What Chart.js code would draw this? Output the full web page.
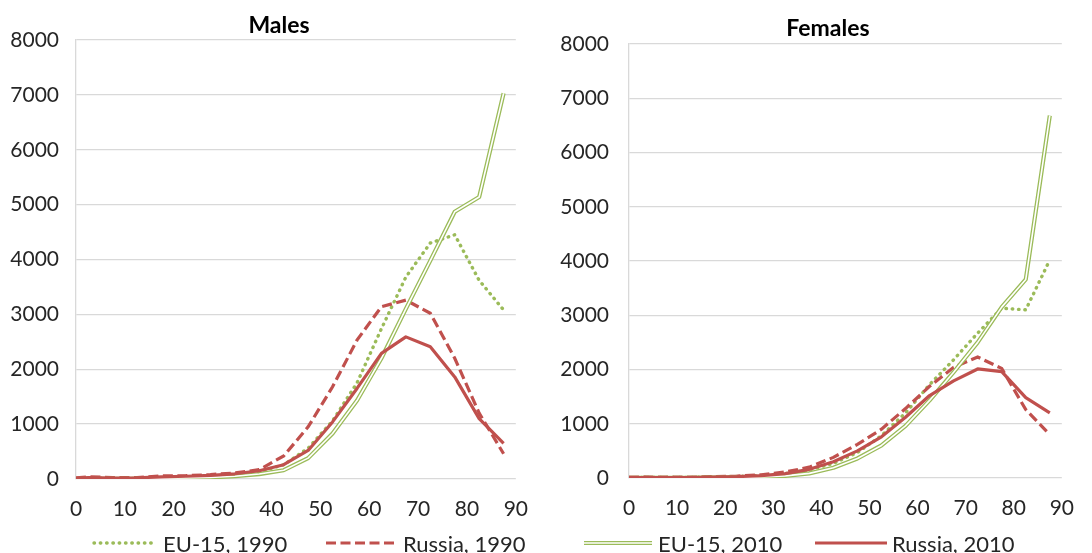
<!DOCTYPE html>
<html>
<head>
<meta charset="utf-8">
<script src="https://cdn.jsdelivr.net/npm/chart.js@4/dist/chart.umd.min.js"></script>
<style>
  html, body { margin: 0; padding: 0; background: #fff; }
  #wrap { position: relative; width: 1092px; height: 553px; overflow: hidden; font-family: Lato, "Open Sans", sans-serif; color: #262626; }
  canvas { position: absolute; top: 0; }
  .title { position: absolute; font-weight: bold; font-size: 23px; line-height: 23px; color: #000; transform: translateX(-50%); white-space: nowrap; }
  .leg { position: absolute; top: 531px; height: 24px; display: flex; align-items: center; font-size: 22px; white-space: nowrap; color: #262626; }
  .leg svg { display: block; margin-right: 5px; }
</style>
</head>
<body>
<div id="wrap">
  <canvas id="males" width="546" height="553" style="left:0"></canvas>
  <canvas id="females" width="546" height="553" style="left:546px"></canvas>
  <div class="title" style="left:279px; top:13px">Males</div>
  <div class="title" style="left:828px; top:16px">Females</div>
  <div class="leg" style="left:92px">
    <svg width="66" height="10"><line x1="2" y1="5" x2="64" y2="5" stroke="#9BBB59" stroke-width="3.4" stroke-linecap="round" stroke-dasharray="0.5 5.8"/></svg>EU-15, 1990</div>
  <div class="leg" style="left:326px">
    <svg width="72" height="10"><line x1="0" y1="5" x2="72" y2="5" stroke="#C0504D" stroke-width="3.2" stroke-dasharray="10 4.5"/></svg>Russia, 1990</div>
  <div class="leg" style="left:583px">
    <svg width="70" height="10"><line x1="1" y1="5" x2="69" y2="5" stroke="#9BBB59" stroke-width="4.2"/><line x1="1" y1="5" x2="69" y2="5" stroke="#fff" stroke-width="1.6"/></svg>EU-15, 2010</div>
  <div class="leg" style="left:815px">
    <svg width="72" height="10"><line x1="0" y1="5" x2="72" y2="5" stroke="#C0504D" stroke-width="3.2"/></svg>Russia, 2010</div>
</div>
<script>
// Age-group midpoints (years)
const ages = [0, 2.5, 7.5, 12.5, 17.5, 22.5, 27.5, 32.5, 37.5, 42.5, 47.5, 52.5, 57.5, 62.5, 67.5, 72.5, 77.5, 82.5, 87.5];

// Males
const maleEU1990 = [0, 15, 10, 10, 30, 40, 45, 75, 130, 260, 560, 1060, 1750, 2740, 3680, 4300, 4450, 3620, 3080];
const maleRU1990 = [20, 40, 25, 25, 55, 60, 80, 110, 170, 420, 950, 1680, 2530, 3140, 3260, 3020, 2200, 1200, 460];
const maleEU2010 = [0, 5, 3, 5, 15, 20, 30, 50, 90, 160, 380, 830, 1430, 2200, 3100, 3980, 4870, 5140, 7030];
const maleRU2010 = [10, 25, 15, 20, 40, 50, 65, 95, 150, 260, 520, 1040, 1650, 2290, 2590, 2410, 1860, 1100, 650];

// Females
const femEU1990 = [0, 12, 8, 10, 20, 30, 45, 80, 150, 270, 470, 780, 1200, 1720, 2180, 2670, 3130, 3100, 4020];
const femRU1990 = [10, 20, 15, 15, 25, 35, 60, 110, 200, 380, 620, 900, 1280, 1690, 2040, 2230, 2020, 1260, 800];
const femEU2010 = [3, 2, 2, 3, 8, 10, 18, 40, 85, 190, 360, 600, 960, 1430, 1950, 2500, 3150, 3660, 6680];
const femRU2010 = [10, 8, 6, 8, 15, 25, 45, 80, 160, 300, 500, 760, 1120, 1520, 1790, 2010, 1960, 1480, 1200];

// Axis settings
const xMin = 0, xMax = 90, xStep = 10;
const yMin = 0, yMax = 8000, yStep = 1000;

const GREEN = '#9BBB59';
const RED = '#C0504D';
const GRID = '#D9D9D9';
const TICK_FONT = { family: 'Lato, "Open Sans", sans-serif', size: 21 };

function pts(values) {
  return ages.map((a, i) => ({ x: a, y: values[i] }));
}

function makeChart(id, s, layout) {
  const ctx = document.getElementById(id).getContext('2d');
  return new Chart(ctx, {
    type: 'line',
    data: {
      datasets: [
        // higher "order" values are painted first (underneath)
        { label: 'EU-15, 1990', data: pts(s.eu1990), borderColor: GREEN, borderWidth: 3.4,
          borderDash: [0.5, 5.8], borderCapStyle: 'round', order: 5 },
        { label: 'Russia, 1990', data: pts(s.ru1990), borderColor: RED, borderWidth: 3.2,
          borderDash: [10, 4.5], order: 4 },
        { label: 'EU-15, 2010', data: pts(s.eu2010), borderColor: GREEN, borderWidth: 4.2,
          borderJoinStyle: 'round', order: 3 },
        { label: 'EU-15, 2010 inner', data: pts(s.eu2010), borderColor: '#FFFFFF', borderWidth: 1.6,
          borderJoinStyle: 'round', order: 2 },
        { label: 'Russia, 2010', data: pts(s.ru2010), borderColor: RED, borderWidth: 3.2,
          borderJoinStyle: 'round', order: 1 }
      ]
    },
    options: {
      responsive: false,
      animation: false,
      devicePixelRatio: 1,
      layout: { padding: layout.padding },
      elements: { point: { radius: 0, hoverRadius: 0 }, line: { tension: 0, fill: false } },
      plugins: { legend: { display: false }, tooltip: { enabled: false }, title: { display: false } },
      scales: {
        x: {
          type: 'linear', min: xMin, max: xMax,
          ticks: { stepSize: xStep, font: TICK_FONT, color: '#262626', padding: 18, maxRotation: 0,
                   callback: (v) => String(v) },
          grid: { display: false, drawTicks: false },
          border: { display: false },
          afterFit: (sc) => { sc.height = 40; }
        },
        y: {
          min: yMin, max: yMax,
          ticks: { stepSize: yStep, font: TICK_FONT, color: '#262626', padding: layout.yPad,
                   callback: (v) => String(v) },
          grid: { color: GRID, lineWidth: 1.3, drawTicks: false },
          border: { display: true, color: GRID, width: 1.3 },
          afterFit: (sc) => { sc.width = layout.yWidth; }
        }
      }
    }
  });
}

makeChart('males',
  { eu1990: maleEU1990, ru1990: maleRU1990, eu2010: maleEU2010, ru2010: maleRU2010 },
  { padding: { left: 0, top: 40, right: 20, bottom: 34 }, yWidth: 76, yPad: 17 });

makeChart('females',
  { eu1990: femEU1990, ru1990: femRU1990, eu2010: femEU2010, ru2010: femRU2010 },
  { padding: { left: 0, top: 44, right: 17, bottom: 35 }, yWidth: 83, yPad: 20 });
</script>
</body>
</html>
